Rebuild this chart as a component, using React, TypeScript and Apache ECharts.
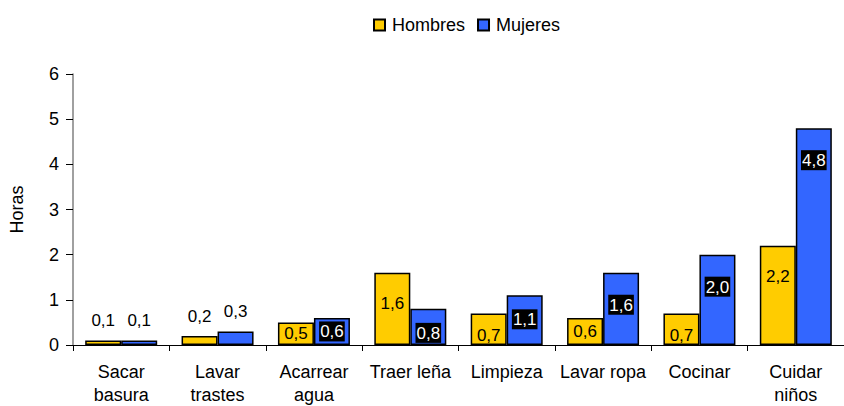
import React, { useEffect, useRef } from "react";
import * as echarts from "echarts";

const categories = [
  "Sacar\nbasura",
  "Lavar\ntrastes",
  "Acarrear\nagua",
  "Traer leña",
  "Limpieza",
  "Lavar ropa",
  "Cocinar",
  "Cuidar\nniños",
];
const hombres = [0.1, 0.2, 0.5, 1.6, 0.7, 0.6, 0.7, 2.2];
const mujeres = [0.1, 0.3, 0.6, 0.8, 1.1, 1.6, 2.0, 4.8];
const yTicks = [0, 1, 2, 3, 4, 5, 6];

const FONT = "'Liberation Sans', Arial, sans-serif";
const fmt = (v: number) => v.toFixed(1).replace(".", ",");

function labelFor(v: number, blue: boolean) {
  const base: any = {
    show: true,
    fontFamily: FONT,
    fontSize: 17,
    formatter: () => fmt(v),
  };
  if (v < 0.4) {
    return { ...base, position: "top", distance: 11, color: "#000" };
  }
  const inside: any =
    v >= 1.5
      ? { position: "insideTop", distance: 22 }
      : v >= 0.7
      ? { position: "insideTop", distance: 14 }
      : { position: "inside" };
  if (blue) {
    return {
      ...base,
      ...inside,
      color: "#fff",
      backgroundColor: "#000",
      padding: [2, 1, 1, 1],
    };
  }
  return { ...base, ...inside, color: "#000" };
}

export default function App() {
  const ref = useRef<HTMLDivElement>(null);
  useEffect(() => {
    if (!ref.current) return;
    const chart = echarts.init(ref.current, undefined, { renderer: "svg" });
    const barStyle = (color: string) => ({
      color,
      borderColor: "#000",
      borderWidth: 1.5,
    });
    chart.setOption({
      animation: false,
      textStyle: { fontFamily: FONT },
      legend: {
        top: 11,
        left: 368,
        itemWidth: 11,
        itemHeight: 11,
        itemGap: 12,
        icon: "rect",
        textStyle: { fontSize: 18, color: "#000", fontFamily: FONT, padding: [0, 0, 0, 2] },
        data: [
          { name: "Hombres", itemStyle: { color: "#FFCC00", borderColor: "#000", borderWidth: 2 } },
          { name: "Mujeres", itemStyle: { color: "#3366FF", borderColor: "#000", borderWidth: 2 } },
        ],
      },
      grid: { left: 67, top: 74, width: 789, height: 272, containLabel: false },
      xAxis: {
        type: "category",
        data: categories,
        axisLine: { lineStyle: { color: "#000", width: 1 } },
        axisTick: { show: true, length: 6, lineStyle: { color: "#000" } },
        axisLabel: {
          interval: 0,
          color: "#000",
          fontSize: 18,
          fontFamily: FONT,
          lineHeight: 23,
          margin: 15,
        },
      },
      yAxis: {
        type: "value",
        min: yTicks[0],
        max: yTicks[yTicks.length - 1],
        interval: 1,
        name: "Horas",
        nameLocation: "middle",
        nameGap: 47,
        nameTextStyle: { fontSize: 18, color: "#000", fontFamily: FONT },
        splitLine: { show: false },
        axisLine: { show: true, lineStyle: { color: "#808080", width: 1.5 } },
        axisTick: { show: true, length: 7, lineStyle: { color: "#000" } },
        axisLabel: { color: "#000", fontSize: 18, fontFamily: FONT, margin: 14 },
      },
      series: [
        {
          name: "Hombres",
          type: "bar",
          barWidth: 36,
          barGap: "0%",
          itemStyle: barStyle("#FFCC00"),
          data: hombres.map((v) => ({ value: v, label: labelFor(v, false) })),
        },
        {
          name: "Mujeres",
          type: "bar",
          barWidth: 36,
          barGap: "0%",
          itemStyle: barStyle("#3366FF"),
          data: mujeres.map((v) => ({ value: v, label: labelFor(v, true) })),
        },
      ],
    });
    return () => chart.dispose();
  }, []);
  return (
    <div
      ref={ref}
      style={{ position: "fixed", left: 0, top: 0, width: 844, height: 406, background: "#fff" }}
    />
  );
}
